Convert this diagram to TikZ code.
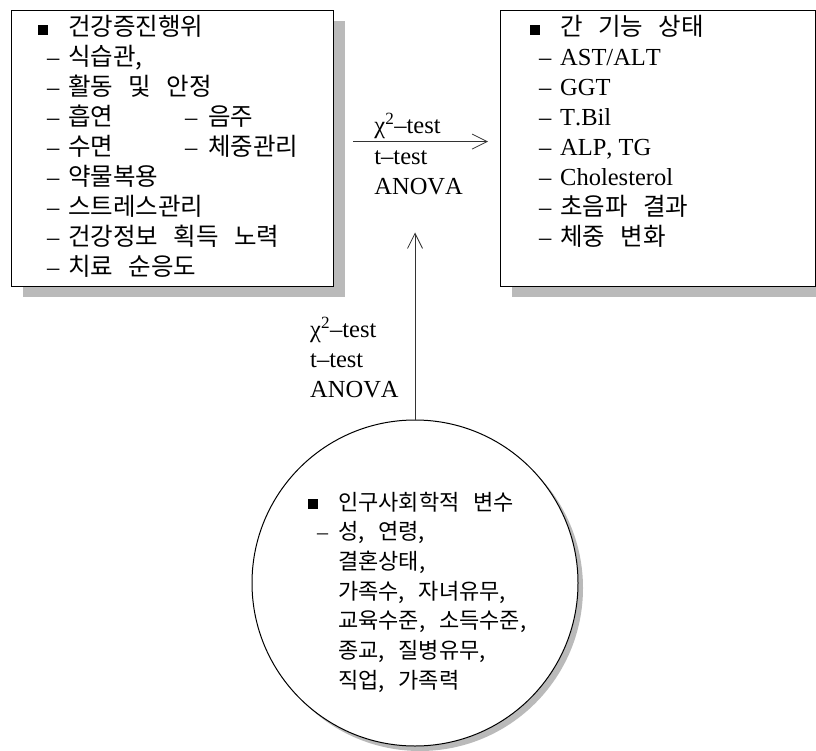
\documentclass[tikz,border=0pt]{standalone}
\usepackage{fontspec}
\setmainfont{Liberation Serif}[Kerning=Off]
\newfontfamily\kr[Scale=1.0,WordSpace=2.8]{Noto Sans CJK KR}
\usetikzlibrary{arrows.meta, shadows}
\newcommand{\headitem}{\makebox[30pt][l]{\raisebox{1pt}{\rule{10pt}{10pt}}}}
\newcommand{\dashitem}{\makebox[30pt][l]{\hspace{9pt}\rmfamily\textendash}}

\begin{document}
\begin{tikzpicture}[x=1pt, y=-1pt,
  panel/.style = {shape=rectangle, draw, line width=1.2pt, fill=white, minimum width=#1, minimum height=276pt, inner sep=0pt,
    drop shadow={shadow xshift=11pt, shadow yshift=-10pt, fill=black!27, opacity=1}},
  listing/.style = {inner sep=0pt, anchor=base west, font=\fontsize{24.5}{30}\selectfont},
  flow/.style = {line width=0.8pt, draw=black!80, -{Straight Barb[length=15pt, width=15pt]}}]
  \useasboundingbox (0,0) rectangle (816,751);

  % the two boxes and the circle
  \node[panel=322pt, anchor=north west] (health) at (11,10) {};
  \node[panel=315pt, anchor=north west] (liver) at (500,10) {};
  \node[circle, draw, line width=1pt, fill=white, minimum size=326pt, inner sep=0pt,
    drop shadow={shadow xshift=5pt, shadow yshift=-5pt, fill=black!27, opacity=1}] (demo) at (415,583) {};

  \node[listing] (healthtext) at ([shift={(27,26)}]health.north west) {\begin{tabular}[t]{@{}l@{}}
    \headitem{\kr 건강증진행위}\\
    \dashitem{\kr 식습관,}\\
    \dashitem{\kr 활동 및 안정}\\
    \dashitem\makebox[117pt][l]{\kr 흡연}\makebox[23pt][l]{\textendash}{\kr 음주}\\
    \dashitem\makebox[117pt][l]{\kr 수면}\makebox[23pt][l]{\textendash}{\kr 체중관리}\\
    \dashitem{\kr 약물복용}\\
    \dashitem{\kr 스트레스관리}\\
    \dashitem{\kr 건강정보 획득 노력}\\
    \dashitem{\kr 치료 순응도}
  \end{tabular}};
  \node[listing] (livertext) at ([shift={(30,26)}]liver.north west) {\begin{tabular}[t]{@{}l@{}}
    \headitem{\kr 간 기능 상태}\\
    \dashitem AST/ALT\\
    \dashitem GGT\\
    \dashitem T.Bil\\
    \dashitem ALP,\ TG\\
    \dashitem Cholesterol\\
    \dashitem{\kr 초음파 결과}\\
    \dashitem{\kr 체중 변화}
  \end{tabular}};
  \node[listing, font=\fontsize{22}{29.7}\selectfont] (demotext) at ([shift={(-107,-73)}]demo.center) {\begin{tabular}[t]{@{}l@{}}
    \headitem{\kr 인구사회학적 변수}\\
    \dashitem{\kr 성, 연령,}\\
    \hspace*{30pt}{\kr 결혼상태,}\\
    \hspace*{30pt}{\kr 가족수, 자녀유무,}\\
    \hspace*{30pt}{\kr 교육수준, 소득수준,}\\
    \hspace*{30pt}{\kr 종교, 질병유무,}\\
    \hspace*{30pt}{\kr 직업, 가족력}
  \end{tabular}};

  % arrows and test labels
  \coordinate (hstart) at ([shift={(19,-7)}]health.east);
  \coordinate (hend) at ([shift={(-12,-7)}]liver.west);
  \coordinate (vtip) at ([yshift=187pt]demo.north);
  \draw[flow] (hstart) -- (hend);
  \draw[flow] (demo.north) -- (vtip);
  \node[listing] (htop) at ([shift={(21,-8)}]hstart) {χ\textsuperscript{2}\textendash test};
  \node[listing] (hbottom) at ([shift={(21,23)}]hstart) {\begin{tabular}[t]{@{}l@{}}t\textendash test\\ANOVA\end{tabular}};
  \node[listing] (vlabels) at ([shift={(-105,-82)}]demo.north) {\begin{tabular}[t]{@{}l@{}}χ\textsuperscript{2}\textendash test\\t\textendash test\\ANOVA\end{tabular}};
\end{tikzpicture}
\end{document}
